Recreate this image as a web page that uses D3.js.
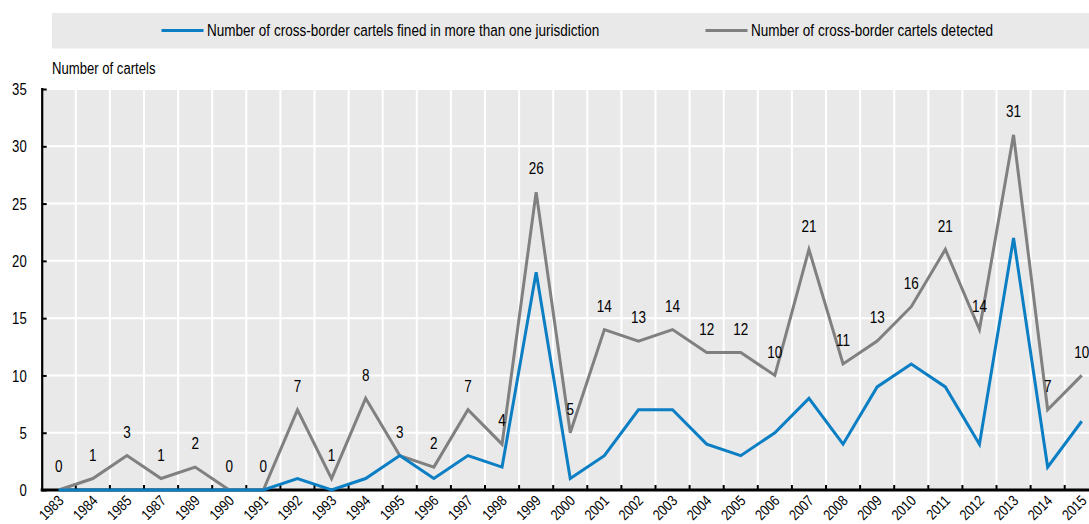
<!DOCTYPE html>
<html>
<head>
<meta charset="utf-8">
<script src="https://cdn.jsdelivr.net/npm/d3@7"></script>
<style>
  html, body { margin: 0; padding: 0; background: #fff; overflow: hidden; }
  svg text { font-family: "Liberation Sans", Arial, sans-serif; fill: #000; }
</style>
</head>
<body>
<svg id="chart" width="1089" height="524"></svg>
<script>
// Year categories on the x axis (1986 and 1988 are absent from the series)
const years = ["1983","1984","1985","1987","1989","1990","1991","1992","1993","1994","1995","1996","1997","1998","1999",
  "2000","2001","2002","2003","2004","2005","2006","2007","2008","2009","2010","2011","2012","2013","2014","2015"];

// Cross-border cartels fined in more than one jurisdiction
const finedMulti = [0,0,0,0,0,0,0,1,0,1,3,1,3,2,19,1,3,7,7,4,3,5,8,4,9,11,9,4,22,2,6];

// Cross-border cartels detected
const detected = [0,1,3,1,2,0,0,7,1,8,3,2,7,4,26,5,14,13,14,12,12,10,21,11,13,16,21,14,31,7,10];

const yTicks = [0,5,10,15,20,25,30,35];

const seriesNames = ["Number of cross-border cartels fined in more than one jurisdiction",
                     "Number of cross-border cartels detected"];
const seriesColors = ["#0b7ec4", "#808080"];

// Narrow lettering: regular sans squeezed horizontally
const SQUEEZE = 0.82;
const FS = 16;

const svg = d3.select("#chart");
const plot = { left: 41.7, top: 89, bottom: 490, band: 34.1 };
plot.right = plot.left + plot.band * years.length;

const x = d3.scaleBand().domain(years).range([plot.left, plot.right]).paddingInner(0).paddingOuter(0);
const y = d3.scaleLinear().domain([0, 35]).range([plot.bottom, plot.top]);
const cx = d => x(d) + x.bandwidth() / 2;

function narrowText(parent, px, py, str, opts = {}) {
  const rot = opts.rotate ? ` rotate(${opts.rotate})` : "";
  return parent.append("text")
    .attr("transform", `translate(${px},${py})${rot} scale(${SQUEEZE},1)`)
    .attr("text-anchor", opts.anchor || "start")
    .attr("dy", "0.35em")
    .attr("font-size", opts.size || FS)
    .text(str);
}

// Legend strip
svg.append("rect").attr("x", 52).attr("y", 13).attr("width", 1089 - 52).attr("height", 35.5).attr("fill", "#e9e9e9");
const legendX = [161.5, 705.5];
seriesNames.forEach((name, i) => {
  const g = svg.append("g");
  g.append("line").attr("x1", legendX[i]).attr("x2", legendX[i] + 42).attr("y1", 30.5).attr("y2", 30.5)
    .attr("stroke", seriesColors[i]).attr("stroke-width", 3);
  narrowText(g, legendX[i] + 45.5, 30, name, { size: 16.5 }).attr("fill", "#111");
});

// Axis title
narrowText(svg, 52, 68.5, "Number of cartels", { size: 16 });

// Plot background
svg.append("rect").attr("x", plot.left).attr("y", plot.top)
  .attr("width", plot.right - plot.left).attr("height", plot.bottom - plot.top).attr("fill", "#e9e9e9");

// Grid lines
const grid = svg.append("g").attr("stroke", "#fff").attr("stroke-width", 2);
grid.selectAll("line.h").data(yTicks.filter(v => v > 0)).join("line").attr("class", "h")
  .attr("x1", plot.left).attr("x2", plot.right).attr("y1", d => y(d)).attr("y2", d => y(d));
grid.selectAll("line.v").data(years.slice(1)).join("line").attr("class", "v")
  .attr("x1", d => x(d)).attr("x2", d => x(d)).attr("y1", plot.top).attr("y2", plot.bottom);

// Y axis with inward ticks
const yAxis = svg.append("g").attr("transform", `translate(${plot.left},0)`)
  .call(d3.axisLeft(y).tickValues(yTicks).tickSize(-5));
yAxis.select(".domain").attr("stroke", "#000").attr("stroke-width", 2.2).attr("d", `M0.5,${plot.top - 1}V${plot.bottom}`);
yAxis.selectAll(".tick line").attr("stroke", "#000").attr("stroke-width", 2);
yAxis.selectAll(".tick text")
  .attr("x", null).attr("dy", "0.35em")
  .attr("transform", `translate(-15,0) scale(${SQUEEZE},1)`)
  .attr("text-anchor", "end")
  .attr("font-size", FS).attr("fill", "#000").attr("font-family", null);

// X axis ticks at band boundaries, drawn inward
const xAxisG = svg.append("g");
xAxisG.selectAll("line.tk").data(years.slice(1)).join("line").attr("class", "tk")
  .attr("x1", d => x(d)).attr("x2", d => x(d)).attr("y1", plot.bottom).attr("y2", plot.bottom - 5)
  .attr("stroke", "#000").attr("stroke-width", 2);

// Series lines
const line = vals => d3.line().x((d, i) => cx(years[i])).y(d => y(d))(vals);
svg.append("path").attr("d", line(detected)).attr("fill", "none")
  .attr("stroke", seriesColors[1]).attr("stroke-width", 3).attr("stroke-linejoin", "miter");
svg.append("path").attr("d", line(finedMulti)).attr("fill", "none")
  .attr("stroke", seriesColors[0]).attr("stroke-width", 3).attr("stroke-linejoin", "miter");

// X axis line
xAxisG.append("line").attr("x1", plot.left - 1).attr("x2", plot.right).attr("y1", plot.bottom).attr("y2", plot.bottom)
  .attr("stroke", "#000").attr("stroke-width", 3);

// Year labels, rotated
const yearG = svg.append("g");
years.forEach(d => narrowText(yearG, cx(d) + 2, plot.bottom + 8, d, { rotate: -45, anchor: "end", size: 15 }));

// Value labels above the detected series
const valG = svg.append("g");
detected.forEach((v, i) => narrowText(valG, cx(years[i]), y(v) - 23.5, v, { anchor: "middle", size: 16.5 }));
</script>
</body>
</html>
